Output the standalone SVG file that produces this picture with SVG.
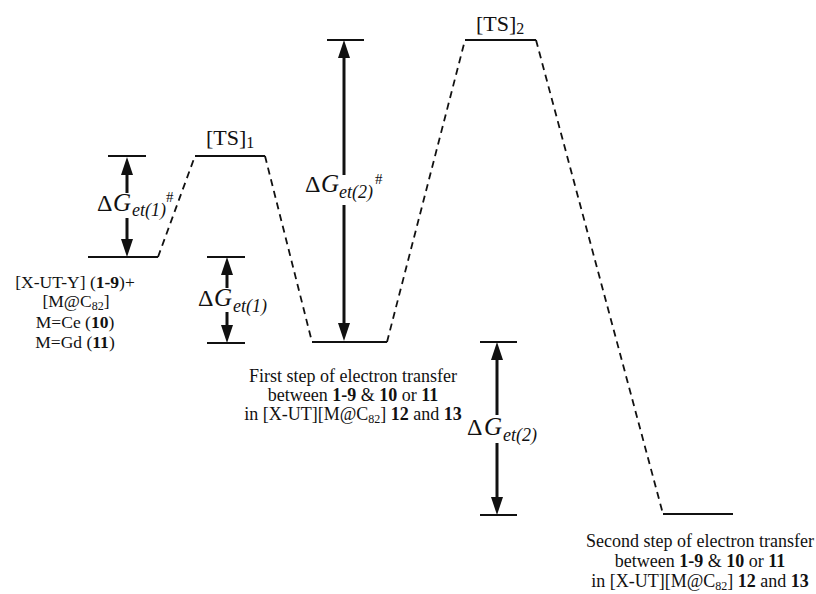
<svg xmlns="http://www.w3.org/2000/svg" width="816" height="594" viewBox="0 0 816 594">
<style>
.lvl{stroke:#111;stroke-width:2;fill:none}
.dash{stroke:#111;stroke-width:1.8;stroke-dasharray:7 5;fill:none}
.arr{stroke:#111;stroke-width:3;fill:none;marker-end:url(#head)}
.t{font-family:"Liberation Serif","Times New Roman",serif;fill:#111;font-size:18px;text-anchor:middle}
.tl{font-family:"Liberation Serif","Times New Roman",serif;fill:#111;font-size:17.5px;text-anchor:middle}
.ts{font-family:"Liberation Serif","Times New Roman",serif;fill:#111;font-size:22px}
.g{font-family:"Liberation Serif","Times New Roman",serif;fill:#111;font-size:24px}
.gi{font-family:"Liberation Serif","Times New Roman",serif;fill:#111;font-size:25px;font-style:italic}
.sub{font-family:"Liberation Serif","Times New Roman",serif;fill:#111;font-size:18px;font-style:italic}
.hash{font-family:"Liberation Serif","Times New Roman",serif;fill:#111;font-size:15px}
.b{font-weight:bold}
</style>
<defs>
<marker id="head" markerUnits="userSpaceOnUse" markerWidth="18" markerHeight="12" refX="1" refY="6" orient="auto">
<path d="M0,0 L18,6 L0,12 Z" fill="#111"/>
</marker>
</defs>

<g id="reactant">
<line class="lvl" x1="88" y1="257" x2="158" y2="257"/>
<text class="tl" x="75" y="288">[X-UT-Y] (<tspan class="b">1-9</tspan>)+</text>
<text class="tl" x="76" y="307">[M@C<tspan font-size="12" dy="3">82</tspan><tspan dy="-3">]</tspan></text>
<text class="tl" x="75" y="328">M=Ce (<tspan class="b">10</tspan>)</text>
<text class="tl" x="75" y="348">M=Gd (<tspan class="b">11</tspan>)</text>
</g>

<g id="ts1">
<line class="lvl" x1="195" y1="156" x2="265" y2="156"/>
<text class="ts" x="206" y="145">[TS]<tspan font-size="16" dy="3">1</tspan></text>
</g>

<g id="intermediate">
<line class="lvl" x1="312" y1="342" x2="387" y2="342"/>
<text class="t" x="353" y="382">First step of electron transfer</text>
<text class="t" x="353" y="401">between <tspan class="b">1-9</tspan> &amp; <tspan class="b">10</tspan> or <tspan class="b">11</tspan></text>
<text class="t" x="353" y="420">in [X-UT][M@C<tspan font-size="12" dy="3">82</tspan><tspan dy="-3">] </tspan><tspan class="b">12</tspan> and <tspan class="b">13</tspan></text>
</g>

<g id="ts2">
<line class="lvl" x1="465" y1="40" x2="536" y2="40"/>
<text class="ts" x="476" y="31">[TS]<tspan font-size="16" dy="3">2</tspan></text>
</g>

<g id="product">
<line class="lvl" x1="663" y1="514" x2="733" y2="514"/>
<text class="t" x="700" y="547">Second step of electron transfer</text>
<text class="t" x="700" y="567">between <tspan class="b">1-9</tspan> &amp; <tspan class="b">10</tspan> or <tspan class="b">11</tspan></text>
<text class="t" x="700" y="587">in [X-UT][M@C<tspan font-size="12" dy="3">82</tspan><tspan dy="-3">] </tspan><tspan class="b">12</tspan> and <tspan class="b">13</tspan></text>
</g>

<g id="dG1-activation">
<line class="lvl" x1="108" y1="156" x2="146" y2="156"/>
<text class="g" x="97" y="211">Δ</text>
<text class="gi" x="113" y="211">G</text>
<text class="sub" x="132" y="216">et(1)</text>
<text class="hash" x="166" y="202">#</text>
</g>

<g id="dG1">
<line class="lvl" x1="207" y1="257" x2="245" y2="257"/>
<line class="lvl" x1="207" y1="343" x2="245" y2="343"/>
<text class="g" x="198" y="306">Δ</text>
<text class="gi" x="214" y="306">G</text>
<text class="sub" x="233" y="312">et(1)</text>
</g>

<g id="dG2-activation">
<line class="lvl" x1="327" y1="40" x2="364" y2="40"/>
<text class="g" x="305" y="192">Δ</text>
<text class="gi" x="321" y="192">G</text>
<text class="sub" x="339" y="198">et(2)</text>
<text class="hash" x="375" y="184">#</text>
</g>

<g id="dG2">
<line class="lvl" x1="480" y1="342" x2="517" y2="342"/>
<line class="lvl" x1="480" y1="515" x2="517" y2="515"/>
<text class="g" x="467" y="435">Δ</text>
<text class="gi" x="484" y="435">G</text>
<text class="sub" x="503" y="441">et(2)</text>
</g>

<g id="connectors">
<path class="dash" d="M158,257 L195,156"/>
<path class="dash" d="M265,156 L312,342"/>
<path class="dash" d="M387,342 L465,40"/>
<path class="dash" d="M536,40 L663,514"/>
<line class="arr" x1="127" y1="193" x2="127" y2="174"/>
<line class="arr" x1="127" y1="218" x2="127" y2="240"/>
<line class="arr" x1="227" y1="288" x2="227" y2="274"/>
<line class="arr" x1="227" y1="312" x2="227" y2="326"/>
<line class="arr" x1="344" y1="175" x2="344" y2="57"/>
<line class="arr" x1="344" y1="205" x2="344" y2="324"/>
<line class="arr" x1="497" y1="415" x2="497" y2="359"/>
<line class="arr" x1="497" y1="443" x2="497" y2="498"/>
</g>
</svg>
